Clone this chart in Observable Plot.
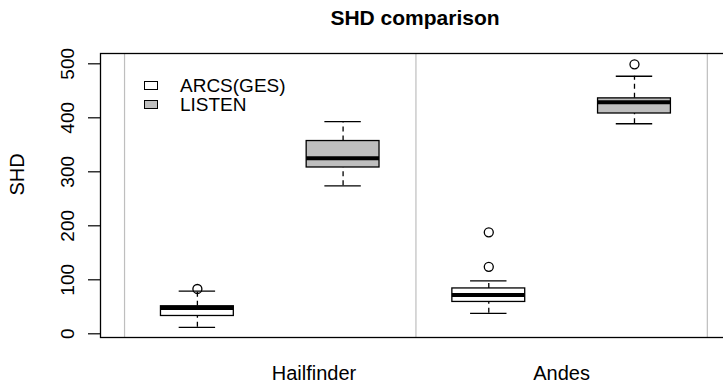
<!DOCTYPE html>
<html>
<head>
<meta charset="utf-8">
<script src="https://cdn.jsdelivr.net/npm/d3@7"></script>
<script src="https://cdn.jsdelivr.net/npm/@observablehq/plot@0.6"></script>
<style>
  body { margin: 0; background: white; }
  #wrap { position: relative; width: 723px; height: 383px; overflow: hidden; font-family: "Liberation Sans", Arial, sans-serif; }
  #chart svg { max-width: none !important; }
  #title { position: absolute; left: 0; width: 830px; top: 6px; text-align: center; font-weight: bold; font-size: 21px; color: black; }
  #legend { position: absolute; left: 144px; top: 76px; font-size: 19px; line-height: 19px; }
  .item { display: flex; align-items: center; height: 19px; }
  .sw { width: 12px; height: 7px; border: 1.2px solid black; margin-right: 22px; }
</style>
</head>
<body>
<div id="wrap">
  <div id="chart"></div>
  <div id="title">SHD comparison</div>
  <div id="legend"></div>
</div>
<script>
const groups = ["Hailfinder", "Andes"];
const methods = ["ARCS(GES)", "LISTEN"];
const methodFill = ["white", "#BEBEBE"];
// boxes in order: Hailfinder ARCS, Hailfinder LISTEN, Andes ARCS, Andes LISTEN
const whiskerLow  = [12, 274, 38, 389];
const quart1      = [33, 308, 59, 408];
const medians     = [48, 325, 72, 429];
const quart3      = [51, 357, 84, 436];
const whiskerHigh = [79, 393, 98, 477];
const outlierBox   = [0, 2, 2, 3];
const outlierValue = [83, 124, 188, 499];
const yTicks = [0, 100, 200, 300, 400, 500];
const groupLabelAt = [1.8, 3.5];
const separators = [0.5, 2.5, 4.5];

const boxes = medians.map((m, i) => ({
  pos: i + 1,
  group: groups[Math.floor(i / 2)],
  method: methods[i % 2],
  lo: whiskerLow[i], q1: quart1[i], med: m, q3: quart3[i], hi: whiskerHigh[i]
}));
const outliers = outlierValue.map((v, i) => ({pos: outlierBox[i] + 1, v}));
const labels = groups.map((g, i) => ({g, x: groupLabelAt[i]}));

const hw = 0.25, cw = 0.125;
const chart = Plot.plot({
  width: 740, height: 383,
  marginLeft: 100, marginRight: 10, marginTop: 53, marginBottom: 46,
  style: {fontFamily: "Liberation Sans, Arial, sans-serif", fontSize: "19px", background: "white", overflow: "visible", maxWidth: "none"},
  x: {domain: [0.335, 4.659], axis: null},
  y: {domain: [-6.85, 519.1], axis: null},
  color: {domain: methods, range: methodFill},
  marks: [
    Plot.ruleX(separators, {stroke: "#BEBEBE", strokeWidth: 1.2}),
    Plot.ruleX(boxes, {x: "pos", y1: "q3", y2: "hi", strokeDasharray: "5,4", strokeWidth: 1.3}),
    Plot.ruleX(boxes, {x: "pos", y1: "lo", y2: "q1", strokeDasharray: "5,4", strokeWidth: 1.3}),
    Plot.ruleY(boxes, {y: "hi", x1: d => d.pos - cw, x2: d => d.pos + cw, strokeWidth: 1.3}),
    Plot.ruleY(boxes, {y: "lo", x1: d => d.pos - cw, x2: d => d.pos + cw, strokeWidth: 1.3}),
    Plot.rect(boxes, {x1: d => d.pos - hw, x2: d => d.pos + hw, y1: "q1", y2: "q3", fill: "method", stroke: "black", strokeWidth: 1.3}),
    Plot.ruleY(boxes, {y: "med", x1: d => d.pos - hw, x2: d => d.pos + hw, strokeWidth: 4}),
    Plot.dot(outliers, {x: "pos", y: "v", r: 4.5, stroke: "black", strokeWidth: 1.3, fill: "none"}),
    Plot.frame({stroke: "black", strokeWidth: 1.3}),
    Plot.axisY({ticks: yTicks, tickSize: 12, text: null, label: null, strokeWidth: 1.2}),
    Plot.axisY({ticks: yTicks, tickSize: 0, tickPadding: 27, rotate: -90, textAnchor: "middle", lineAnchor: "bottom", label: null, fontSize: 19}),
    Plot.text(["SHD"], {frameAnchor: "left", rotate: -90, dx: -83, fontSize: 20, lineAnchor: "middle"}),
    Plot.text(labels, {x: "x", text: "g", frameAnchor: "bottom", dy: 42, lineAnchor: "bottom", fontSize: 20})
  ]
});
document.getElementById("chart").appendChild(chart);

const legend = document.getElementById("legend");
methods.forEach((m, i) => {
  const item = document.createElement("div");
  item.className = "item";
  const sw = document.createElement("div");
  sw.className = "sw";
  sw.style.background = methodFill[i];
  const t = document.createElement("span");
  t.textContent = m;
  item.appendChild(sw); item.appendChild(t);
  legend.appendChild(item);
});
</script>
</body>
</html>
